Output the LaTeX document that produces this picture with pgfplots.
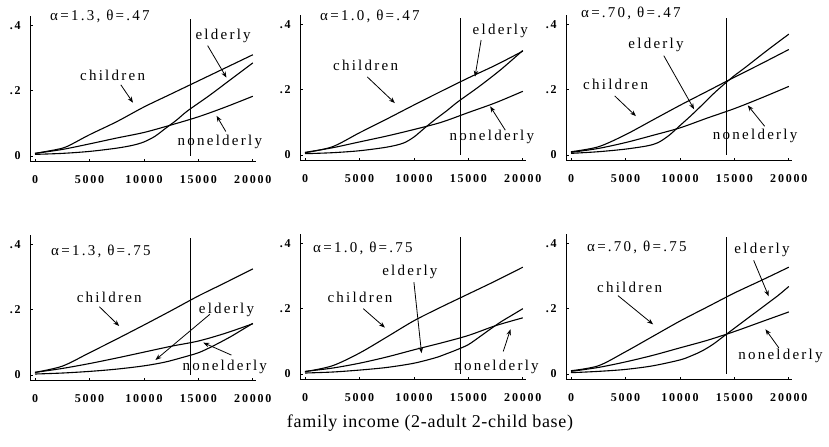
\documentclass[border=0pt]{standalone}
\usepackage{pgfplots}
\pgfplotsset{compat=1.18}
\usepackage{fontspec}
\setmainfont{Liberation Serif}
\newfontfamily\lblfont[LetterSpace=15]{Liberation Serif}
\newfontfamily\tckfont[LetterSpace=15]{Liberation Serif}
\newfontfamily\xlfont[LetterSpace=4]{Liberation Serif}
\newcommand\lbl{\lblfont\fontsize{15bp}{17bp}\selectfont}
\newcommand\tck{\tckfont\fontsize{12bp}{14bp}\selectfont\bfseries}
\usetikzlibrary{arrows.meta}
\tikzset{arr/.style={-{Stealth[length=6bp,width=4.5bp]}, line width=0.8bp},
  crv/.style={black, line width=1.1bp, mark=none, smooth, tension=0.5}}
\pgfplotsset{panel/.style={
  scale only axis, width=226bp, height=146bp,
  xmin=-450, xmax=20300, ymin=-0.017, ymax=0.43,
  axis lines*=left, axis line style={-, line width=0.9bp},
  xtick={0,5000,10000,15000,20000}, xticklabels={0,5000,10000,15000,20000},
  scaled x ticks=false, scaled y ticks=false,
  ytick={0,0.2,0.4}, yticklabels={0,.2,.4},
  tick style={black, line width=0.8bp}, major tick length=3bp,
  ticklabel style={font=\tck},
  xticklabel style={yshift=-10bp},
  yticklabel style={xshift=-6bp},
  clip=false, anchor=origin,
}}
\begin{document}
\begin{tikzpicture}
\path[use as bounding box] (0,0) rectangle (829bp,447bp);
% Panel 1
\begin{axis}[panel, at={(35bp,291bp)}]
\addplot[crv] coordinates {(0,0.008)(2000,0.02)(3000,0.03)(5000,0.065)(7500,0.105)(10000,0.15)(12500,0.19)(15000,0.23)(17500,0.27)(20000,0.31)};
\addplot[crv] coordinates {(0,0.005)(2500,0.008)(5000,0.014)(7500,0.024)(9000,0.033)(10000,0.043)(11000,0.06)(12000,0.085)(13000,0.11)(14000,0.138)(16000,0.185)(18000,0.235)(20000,0.285)};
\addplot[crv] coordinates {(0,0.008)(2500,0.02)(5000,0.037)(7500,0.055)(10000,0.072)(12500,0.095)(15000,0.12)(17500,0.15)(20000,0.183)};
\addplot[black, line width=1bp] coordinates {(14300,0.0)(14300,0.42)};
\node[font=\lbl] at (axis cs:5960,0.426) {α=1.3, θ=.47};
\node[font=\lbl] at (axis cs:7120,0.246) {children};
\draw[arr] (axis cs:7880,0.218) -- (axis cs:9000,0.163);
\node[font=\lbl] at (axis cs:17270,0.368) {elderly};
\draw[arr] (axis cs:15850,0.338) -- (axis cs:17580,0.24);
\node[font=\lbl] at (axis cs:16970,0.043) {nonelderly};
\draw[arr] (axis cs:17520,0.075) -- (axis cs:16670,0.123);
\end{axis}
% Panel 2
\begin{axis}[panel, at={(305bp,292bp)}]
\addplot[crv] coordinates {(0,0.007)(2500,0.025)(5000,0.068)(7500,0.11)(10000,0.153)(12500,0.195)(15000,0.236)(17500,0.275)(20000,0.318)};
\addplot[crv] coordinates {(0,0.004)(2500,0.007)(5000,0.013)(7500,0.024)(9000,0.036)(10000,0.055)(11000,0.083)(12000,0.11)(13000,0.135)(14000,0.162)(16000,0.21)(18000,0.262)(20000,0.32)};
\addplot[crv] coordinates {(0,0.008)(2500,0.022)(5000,0.04)(7500,0.058)(10000,0.078)(12500,0.1)(15000,0.13)(17500,0.16)(20000,0.195)};
\addplot[black, line width=1bp] coordinates {(14300,0.0)(14300,0.42)};
\node[font=\lbl] at (axis cs:5960,0.423) {α=1.0, θ=.47};
\node[font=\lbl] at (axis cs:5560,0.274) {children};
\draw[arr] (axis cs:5720,0.239) -- (axis cs:8250,0.159);
\node[font=\lbl] at (axis cs:17930,0.38) {elderly};
\draw[arr] (axis cs:16170,0.352) -- (axis cs:15610,0.24);
\node[font=\lbl] at (axis cs:17160,0.056) {nonelderly};
\draw[arr] (axis cs:18390,0.076) -- (axis cs:17000,0.149);
\end{axis}
% Panel 3
\begin{axis}[panel, at={(571bp,292bp)}]
\addplot[crv] coordinates {(0,0.01)(2500,0.025)(5000,0.062)(7500,0.107)(10000,0.152)(12500,0.195)(15000,0.238)(17500,0.28)(20000,0.323)};
\addplot[crv] coordinates {(0,0.005)(2500,0.01)(5000,0.018)(7000,0.028)(8000,0.038)(9000,0.06)(10000,0.09)(11000,0.12)(12000,0.152)(13000,0.185)(14000,0.215)(15000,0.243)(16000,0.268)(18000,0.32)(20000,0.37)};
\addplot[crv] coordinates {(0,0.008)(2500,0.02)(5000,0.038)(7500,0.06)(10000,0.083)(12500,0.113)(15000,0.142)(17500,0.175)(20000,0.21)};
\addplot[black, line width=1bp] coordinates {(14300,0.0)(14300,0.42)};
\node[font=\lbl] at (axis cs:5500,0.435) {α=.70, θ=.47};
\node[font=\lbl] at (axis cs:4100,0.215) {children};
\draw[arr] (axis cs:4010,0.181) -- (axis cs:5960,0.119);
\node[font=\lbl] at (axis cs:7810,0.337) {elderly};
\draw[arr] (axis cs:8520,0.304) -- (axis cs:11300,0.14);
\node[font=\lbl] at (axis cs:16910,0.057) {nonelderly};
\draw[arr] (axis cs:17780,0.088) -- (axis cs:16230,0.152);
\end{axis}
% Panel 4
\begin{axis}[panel, at={(35bp,72bp)}]
\addplot[crv] coordinates {(0,0.008)(2500,0.027)(5000,0.068)(7500,0.11)(10000,0.153)(12500,0.197)(15000,0.242)(17500,0.283)(20000,0.325)};
\addplot[crv] coordinates {(0,0.003)(2500,0.006)(5000,0.011)(7500,0.018)(10000,0.028)(12000,0.04)(14000,0.058)(15000,0.068)(16000,0.083)(17000,0.1)(18000,0.118)(19000,0.138)(20000,0.158)};
\addplot[crv] coordinates {(0,0.008)(2500,0.02)(5000,0.035)(7500,0.052)(10000,0.07)(12500,0.088)(15000,0.104)(17500,0.128)(20000,0.157)};
\addplot[black, line width=1bp] coordinates {(14300,0.0)(14300,0.42)};
\node[font=\lbl] at (axis cs:6055,0.377) {α=1.3, θ=.75};
\node[font=\lbl] at (axis cs:6820,0.237) {children};
\draw[arr] (axis cs:5910,0.209) -- (axis cs:7730,0.15);
\node[font=\lbl] at (axis cs:17580,0.2) {elderly};
\draw[arr] (axis cs:16060,0.186) -- (axis cs:11060,0.046);
\node[font=\lbl] at (axis cs:17420,0.025) {nonelderly};
\draw[arr] (axis cs:18030,0.061) -- (axis cs:15450,0.099);
\end{axis}
% Panel 5
\begin{axis}[panel, at={(305bp,73bp)}]
\addplot[crv] coordinates {(0,0.007)(2500,0.025)(5000,0.064)(7500,0.113)(10000,0.163)(12500,0.205)(15000,0.245)(17500,0.285)(20000,0.327)};
\addplot[crv] coordinates {(0,0.003)(2500,0.006)(5000,0.012)(7500,0.02)(10000,0.033)(12000,0.05)(13000,0.062)(14000,0.075)(15000,0.09)(16000,0.113)(17000,0.137)(18000,0.16)(19000,0.18)(20000,0.2)};
\addplot[crv] coordinates {(0,0.008)(2500,0.018)(5000,0.033)(7500,0.052)(10000,0.074)(12500,0.095)(15000,0.118)(17500,0.148)(20000,0.172)};
\addplot[black, line width=1bp] coordinates {(14300,0.0)(14300,0.42)};
\node[font=\lbl] at (axis cs:5320,0.383) {α=1.0, θ=.75};
\node[font=\lbl] at (axis cs:5050,0.235) {children};
\draw[arr] (axis cs:5350,0.2) -- (axis cs:7340,0.142);
\node[font=\lbl] at (axis cs:9630,0.312) {elderly};
\draw[arr] (axis cs:10000,0.281) -- (axis cs:10700,0.064);
\node[font=\lbl] at (axis cs:17580,0.023) {nonelderly};
\draw[arr] (axis cs:18200,0.069) -- (axis cs:18870,0.137);
\end{axis}
% Panel 6
\begin{axis}[panel, at={(571bp,73bp)}]
\addplot[crv] coordinates {(0,0.01)(2500,0.025)(5000,0.068)(7500,0.115)(10000,0.162)(12500,0.205)(15000,0.248)(17500,0.287)(20000,0.327)};
\addplot[crv] coordinates {(0,0.004)(2500,0.008)(5000,0.014)(7500,0.025)(10000,0.043)(11000,0.055)(12000,0.07)(13000,0.09)(14000,0.115)(15000,0.14)(16000,0.165)(17000,0.19)(18000,0.215)(19000,0.24)(20000,0.268)};
\addplot[crv] coordinates {(0,0.008)(2500,0.02)(5000,0.037)(7500,0.057)(10000,0.08)(12500,0.103)(15000,0.13)(17500,0.16)(20000,0.19)};
\addplot[black, line width=1bp] coordinates {(14300,0.0)(14300,0.42)};
\node[font=\lbl] at (axis cs:6050,0.389) {α=.70, θ=.75};
\node[font=\lbl] at (axis cs:5380,0.266) {children};
\draw[arr] (axis cs:4310,0.24) -- (axis cs:7540,0.152);
\node[font=\lbl] at (axis cs:17540,0.38) {elderly};
\draw[arr] (axis cs:16770,0.348) -- (axis cs:18150,0.238);
\node[font=\lbl] at (axis cs:19230,0.054) {nonelderly};
\draw[arr] (axis cs:19080,0.08) -- (axis cs:17850,0.137);
\end{axis}
\node[font=\xlfont\fontsize{18bp}{20bp}\selectfont] at (430bp,24bp) {family income (2-adult 2-child base)};
\end{tikzpicture}
\end{document}
